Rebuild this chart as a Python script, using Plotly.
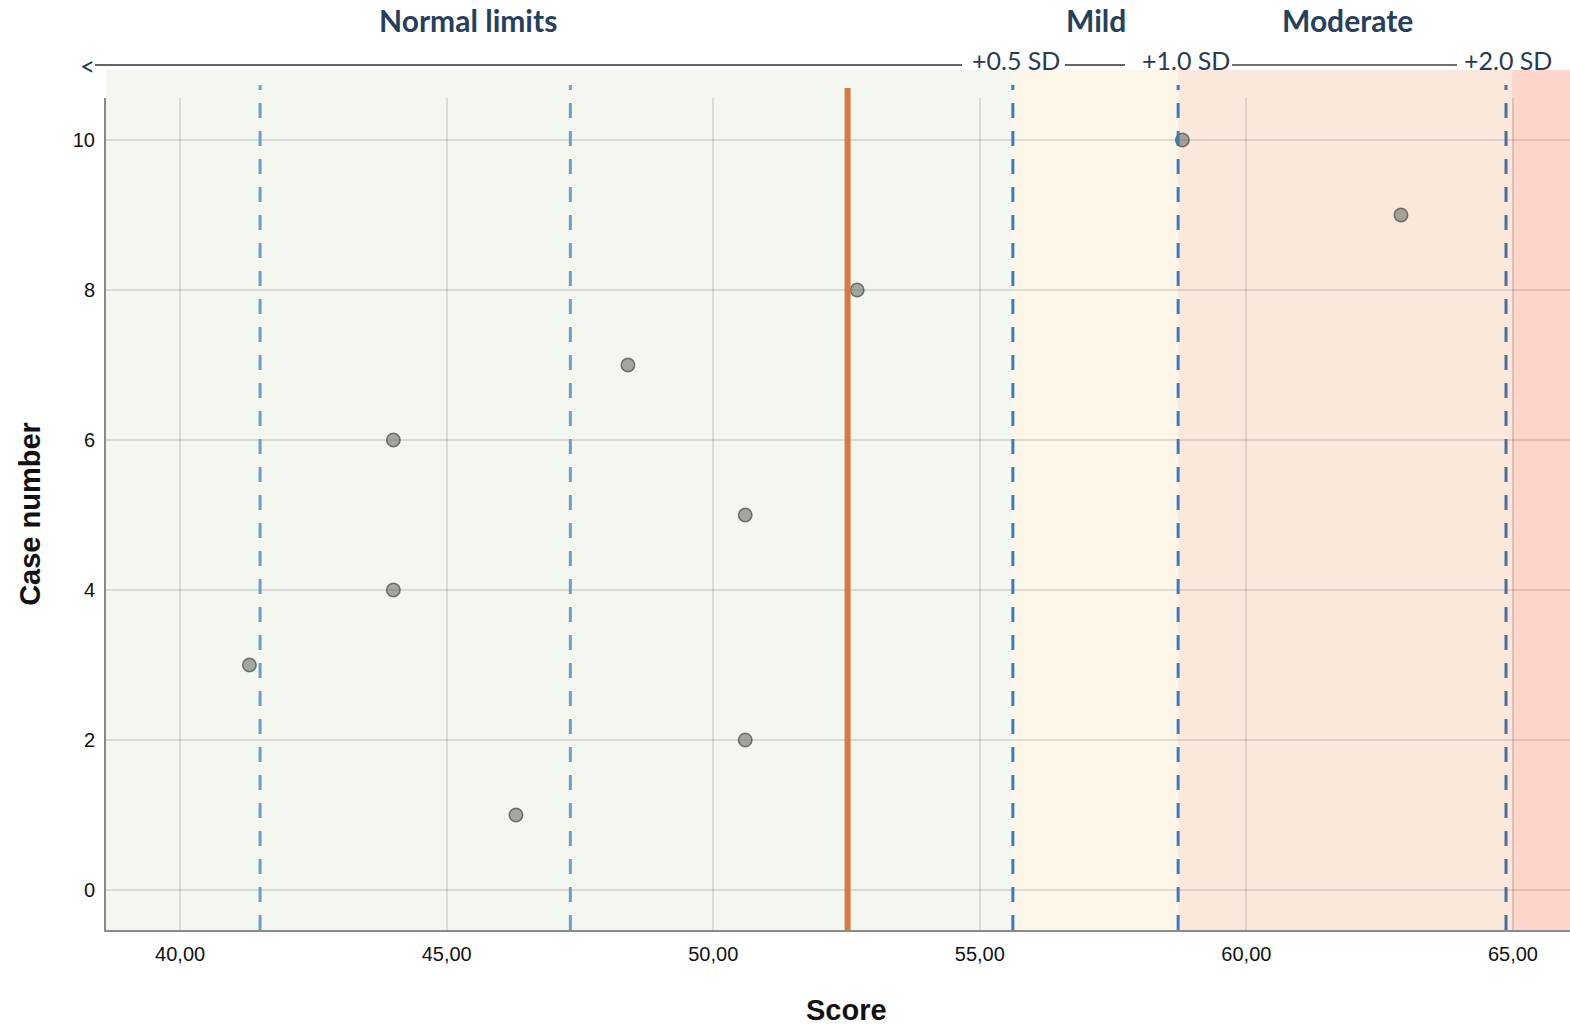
import plotly.graph_objects as go

# ---------------- data ----------------
case_number = [1, 2, 3, 4, 5, 6, 7, 8, 9, 10]
score = [46.3, 50.6, 41.3, 44.0, 50.6, 44.0, 48.4, 52.7, 62.9, 58.8]

mean_score = 52.52
sd_lines = [41.5, 47.32, 55.62, 58.72, 64.87]          # dashed reference lines
sd_line_colors = ["#6b9fc6", "#6b9fc6", "#3a7abd", "#3a7abd", "#4d6c9b"]

band_edges = [38.61, 55.62, 58.72, 64.98, 66.07]
band_colors = ["#f3f7f0", "#fdf7e9", "#fbe8dc", "#fdd5ca"]
band_names = ["Normal limits", "Mild", "Moderate", ""]
band_label_x = [45.4, 57.17, 61.9, None]

sd_labels = ["+0.5 SD", "+1.0 SD", "+2.0 SD"]
sd_label_x = [55.68, 58.87, 64.9]

x_ticks = [40, 45, 50, 55, 60, 65]
y_ticks = [0, 2, 4, 6, 8, 10]

# ---------------- geometry helpers (figure layout) ----------------
W, H = 1570, 1026
ML, MR, MT, MB = 106, 0, 98, 96
PW, PH = W - ML - MR, H - MT - MB


def py2paper(py):
    return (H - MB - py) / PH


def px2paper(px):
    return (px - ML) / PW


fig = go.Figure()

fig.add_trace(go.Scatter(
    x=score, y=case_number, mode="markers",
    marker=dict(size=13.5, color="rgba(82,90,80,0.5)",
                line=dict(color="rgba(45,48,44,0.6)", width=1.5)),
    showlegend=False, hoverinfo="skip",
))

shapes = []
# background bands
for i, c in enumerate(band_colors):
    shapes.append(dict(type="rect", xref="x", yref="paper",
                       x0=band_edges[i], x1=band_edges[i + 1],
                       y0=0, y1=py2paper(70), fillcolor=c,
                       line=dict(width=0), layer="below"))
# dashed SD lines
for xv, col in zip(sd_lines, sd_line_colors):
    shapes.append(dict(type="line", xref="x", yref="paper",
                       x0=xv, x1=xv, y0=0, y1=py2paper(85),
                       line=dict(color=col, width=3, dash="15px,13px"),
                       layer="above"))
# mean line
shapes.append(dict(type="line", xref="x", yref="paper",
                   x0=mean_score, x1=mean_score, y0=0, y1=py2paper(88),
                   line=dict(color="#d67a43", width=6), layer="above"))
# header rule segments
for (a, b, col, w) in [(95, 962, "#333333", 1.3), (1065, 1125, "#333333", 1.3),
                       (1232, 1457, "#6e6e6e", 2)]:
    shapes.append(dict(type="line", xref="paper", yref="paper",
                       x0=px2paper(a), x1=px2paper(b),
                       y0=py2paper(65), y1=py2paper(65),
                       line=dict(color=col, width=w)))

annotations = []
for name, xv in zip(band_names, band_label_x):
    if name:
        annotations.append(dict(text="<b>" + name + "</b>", x=xv, xref="x",
                                y=py2paper(20), yref="paper", showarrow=False,
                                xanchor="center", yanchor="middle",
                                font=dict(family="Lato", size=30, color="#263f5c")))
for lab, xv in zip(sd_labels, sd_label_x):
    annotations.append(dict(text=lab, x=xv, xref="x", y=py2paper(60), yref="paper",
                            showarrow=False, xanchor="center", yanchor="middle",
                            font=dict(family="Lato", size=25, color="#2b3a4d")))
annotations.append(dict(text="<", x=px2paper(87), xref="paper", y=py2paper(66),
                        yref="paper", showarrow=False, xanchor="center",
                        yanchor="middle",
                        font=dict(family="Lato", size=26, color="#2b3a4d")))
# x-axis title
annotations.append(dict(text="<b>Score</b>", x=px2paper(846), xref="paper",
                        y=py2paper(1010), yref="paper", showarrow=False,
                        xanchor="center", yanchor="middle",
                        font=dict(family="Liberation Sans", size=29, color="#111111")))

fig.update_layout(
    width=W, height=H,
    margin=dict(l=ML, r=MR, t=MT, b=MB, pad=0),
    paper_bgcolor="white", plot_bgcolor="white",
    separators=",.",
    shapes=shapes, annotations=annotations,
    font=dict(family="Liberation Sans", color="#111111"),
)
fig.update_xaxes(
    range=[band_edges[0], band_edges[-1]], tickvals=x_ticks, tickformat=".2f",
    showgrid=True, gridcolor="rgba(0,0,0,0.11)", gridwidth=2,
    showline=True, linecolor="#8a8a8a", linewidth=2, zeroline=False,
    ticks="", ticklabelstandoff=5,
    tickfont=dict(family="Liberation Sans", size=20, color="#111111"),
)
fig.update_yaxes(
    range=[-0.533, 10.56], tickvals=y_ticks,
    showgrid=True, gridcolor="rgba(0,0,0,0.11)", gridwidth=2,
    showline=True, linecolor="#8a8a8a", linewidth=2, zeroline=False,
    ticks="", ticklabelstandoff=5,
    tickfont=dict(family="Liberation Sans", size=20, color="#111111"),
    title=dict(text="<b>Case number</b>", standoff=24,
               font=dict(family="Liberation Sans", size=29, color="#111111")),
)

fig.write_html("out.html", config={"displayModeBar": False},
               post_script="document.body.style.margin='0px';"
                           "document.body.style.overflow='hidden';")
